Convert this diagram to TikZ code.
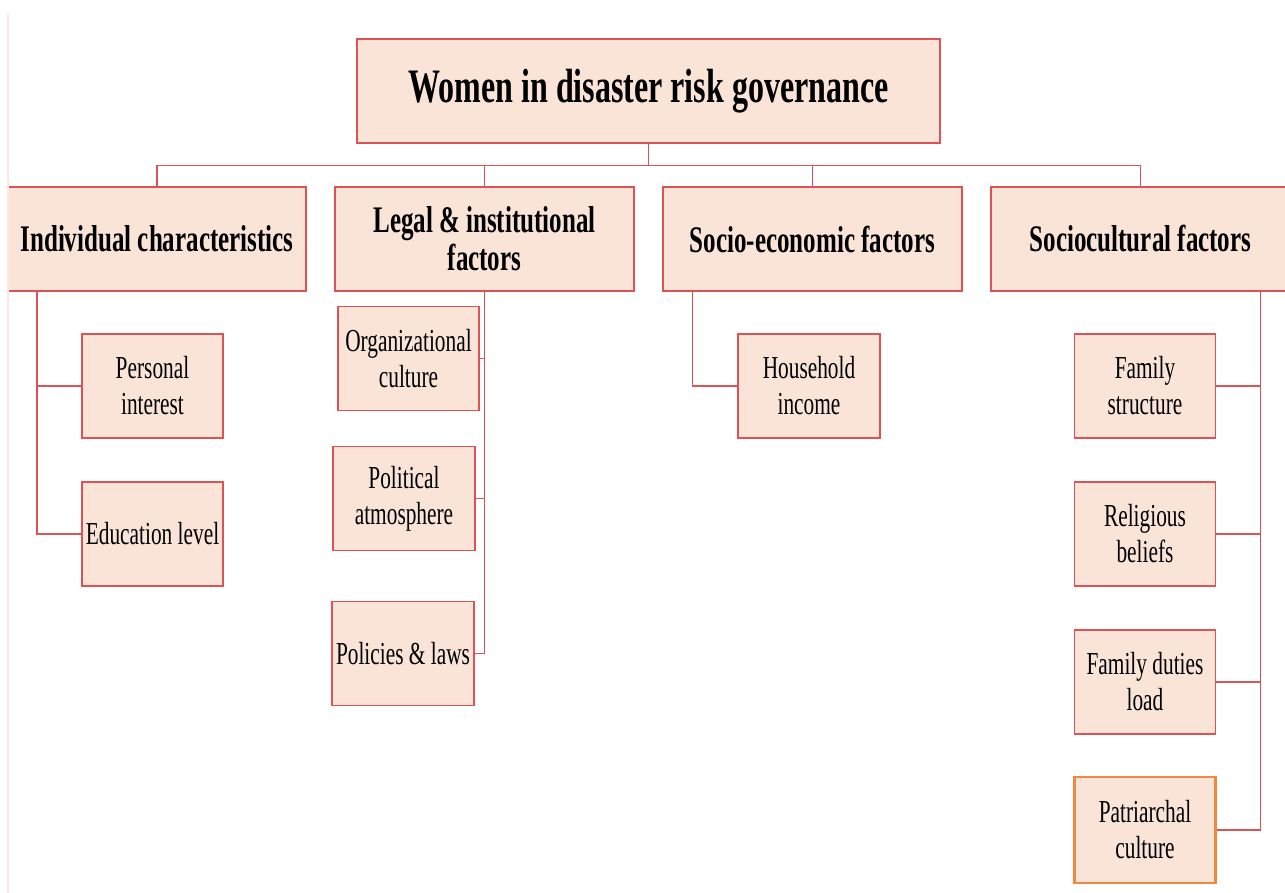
\documentclass[tikz,border=0pt]{standalone}
\usepackage{fontspec}
\setmainfont{Liberation Serif}[FakeStretch=0.667]
\definecolor{boxfill}{RGB}{250,228,216}
\definecolor{boxred}{RGB}{220,82,86}
\definecolor{boxorange}{RGB}{240,136,66}
\definecolor{edgeline}{RGB}{252,234,220}
\tikzset{
  base/.style={draw=boxred, fill=boxfill, line width=1.5pt, rectangle, align=center, inner sep=2pt},
  titlebox/.style={base, minimum width=583pt, minimum height=104pt, font=\fontsize{48}{52}\selectfont\bfseries},
  mainbox/.style={base, minimum width=299pt, minimum height=104pt, font=\fontsize{37.5}{38}\selectfont\bfseries},
  subbox/.style={base, minimum width=141pt, minimum height=104pt, font=\fontsize{32}{36}\selectfont},
  conn/.style={draw=boxred, line width=1.3pt}
}
\begin{document}
\begin{tikzpicture}[x=1pt,y=-1pt]
\useasboundingbox[fill=white] (0,0) rectangle (1285,893);
% title
\node[titlebox] (title) at (648.5,91) {\raisebox{-2pt}{Women in disaster risk governance}};
% main categories
\node[mainbox, minimum width=298pt] (ind) at (157,239) {Individual characteristics};
\node[mainbox] (legal) at (484.5,239) {Legal \& institutional\\factors};
\node[mainbox] (se) at (812.5,239) {Socio-economic factors};
\node[mainbox] (sc) at (1140.5,239) {Sociocultural factors};
% sub boxes
\node[subbox] (pi) at (152.5,386) {Personal\\interest};
\node[subbox] (el) at (152.5,534) {Education level};
\node[subbox] (org) at (408.5,358.5) {Organizational\\culture};
\node[subbox, minimum width=142pt] (pol) at (404,498.5) {Political\\atmosphere};
\node[subbox, minimum width=142pt] (plw) at (403,653.5) {Policies \& laws};
\node[subbox, minimum width=142pt] (hi) at (809,386) {Household\\income};
\node[subbox] (fs) at (1145,386) {Family\\structure};
\node[subbox] (rb) at (1145,534) {Religious\\beliefs};
\node[subbox] (fd) at (1145,682) {Family duties\\load};
\node[subbox, draw=boxorange, line width=2.2pt, minimum height=106pt] (pc) at (1145,830) {Patriarchal\\culture};
% connectors top level
\draw[conn] (title.south) -- ++(0,22) coordinate (bus);
\draw[conn] (ind.north) |- (bus) -| (sc.north);
\draw[conn] (legal.north) -- (legal.north |- bus);
\draw[conn] (se.north) -- (se.north |- bus);
% individual
\coordinate (indv) at ([xshift=-120pt]ind.south);
\draw[conn] (indv) |- (pi.west);
\draw[conn] (indv) |- (el.west);
% legal
\draw[conn] (legal.south) |- (org.east);
\draw[conn] (legal.south) |- (pol.east);
\draw[conn] (legal.south) |- (plw.east);
% socio-economic
\coordinate (sev) at ([xshift=-120pt]se.south);
\draw[conn] (sev) |- (hi.west);
% sociocultural
\coordinate (scv) at ([xshift=120pt]sc.south);
\draw[conn] (scv) |- (fs.east);
\draw[conn] (scv) |- (rb.east);
\draw[conn] (scv) |- (fd.east);
\draw[conn] (scv) |- (pc.east);
% faint page edge
\draw[edgeline, line width=2pt] (7.5,13) -- (7.5,893);
\end{tikzpicture}
\end{document}
